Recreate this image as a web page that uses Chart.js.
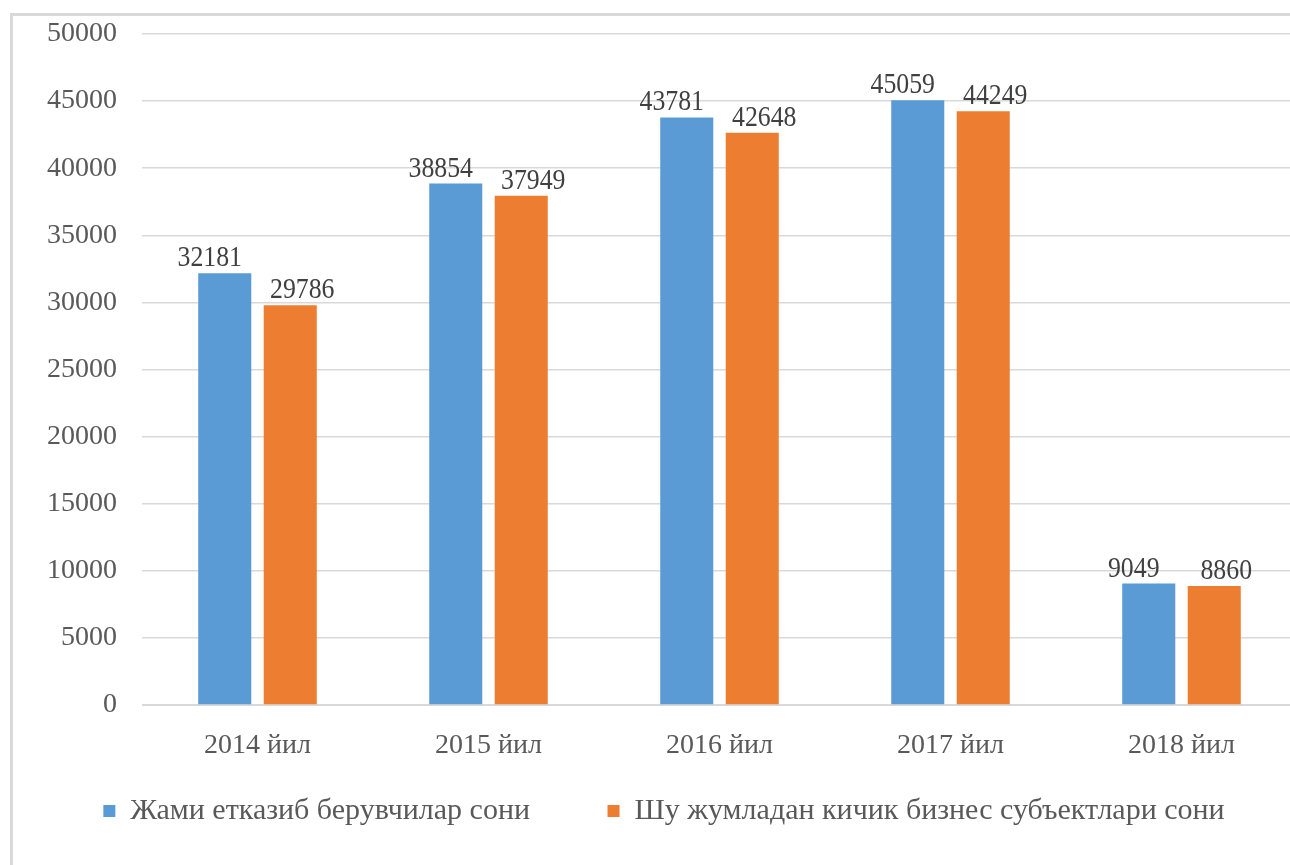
<!DOCTYPE html>
<html>
<head>
<meta charset="utf-8">
<script src="https://cdn.jsdelivr.net/npm/chart.js@4/dist/chart.umd.min.js"></script>
<style>
  body { margin: 0; background: #fff; overflow: hidden; }
  #frame { position: absolute; left: 10px; top: 13px; width: 1400px; height: 900px;
           border-left: 3px solid #d9d9d9; border-top: 3px solid #d9d9d9; }
  #wrap { position: absolute; left: 0; top: 0; width: 1300px; height: 865px; }
</style>
</head>
<body>
<div id="frame"></div>
<div id="wrap"><canvas id="myChart" width="1300" height="865"></canvas></div>
<script>
var years = ['2014 йил', '2015 йил', '2016 йил', '2017 йил', '2018 йил'];
var totalSuppliers = [32181, 38854, 43781, 45059, 9049];
var smallBusiness = [29786, 37949, 42648, 44249, 8860];
var seriesNames = ['Жами етказиб берувчилар сони', 'Шу жумладан кичик бизнес субъектлари сони'];
var serif = '"Liberation Serif", "Times New Roman", serif';

// values over the bars (slightly narrow serif, like the original)
var labelShift = [-15, 12];
var barLabels = {
  id: 'barLabels',
  afterDatasetsDraw: function(chart) {
    var ctx = chart.ctx;
    chart.data.datasets.forEach(function(ds, i) {
      chart.getDatasetMeta(i).data.forEach(function(bar, j) {
        ctx.save();
        ctx.translate(bar.x + labelShift[i], bar.y - 7);
        ctx.scale(0.86, 1);
        ctx.font = '30px ' + serif;
        ctx.fillStyle = '#404040';
        ctx.textAlign = 'center';
        ctx.textBaseline = 'alphabetic';
        ctx.fillText(ds.data[j], 0, 0);
        ctx.restore();
      });
    });
  }
};

var ctx = document.getElementById('myChart');
var myChart = new Chart(ctx, {
  type: 'bar',
  data: {
    labels: years,
    datasets: [{
      label: seriesNames[0],
      data: totalSuppliers,
      backgroundColor: '#5b9bd5',
      categoryPercentage: 0.567,
      barPercentage: 0.81
    }, {
      label: seriesNames[1],
      data: smallBusiness,
      backgroundColor: '#ed7d31',
      categoryPercentage: 0.567,
      barPercentage: 0.81
    }]
  },
  plugins: [barLabels],
  options: {
    responsive: false,
    animation: false,
    layout: { padding: { top: 34, right: 3, left: 31, bottom: 29 } },
    plugins: {
      tooltip: { enabled: false },
      legend: {
        position: 'bottom',
        labels: {
          font: { family: serif, size: 30 },
          color: '#595959',
          boxWidth: 12,
          boxHeight: 12,
          padding: 10,
          generateLabels: function(chart) {
            var items = Chart.defaults.plugins.legend.labels.generateLabels(chart);
            // wide gap between the two legend entries
            items[0].text = items[0].text + '         ';
            return items;
          }
        }
      }
    },
    scales: {
      x: {
        grid: { display: false },
        border: { color: '#d9d9d9', width: 1 },
        ticks: {
          font: { family: serif, size: 28 },
          color: '#595959',
          padding: 16
        },
        afterFit: function(axis) { axis.height = 81; }
      },
      y: {
        min: 0,
        max: 50000,
        ticks: {
          stepSize: 5000,
          font: { family: serif, size: 28 },
          color: '#595959',
          padding: 25,
          callback: function(v) { return String(v); }
        },
        grid: { color: '#d9d9d9', lineWidth: 1.5, drawTicks: false },
        border: { display: false },
        afterFit: function(axis) {
          axis.width = 111;
          axis.paddingTop = 0;
          axis.paddingBottom = 0;
        }
      }
    }
  }
});
</script>
</body>
</html>
